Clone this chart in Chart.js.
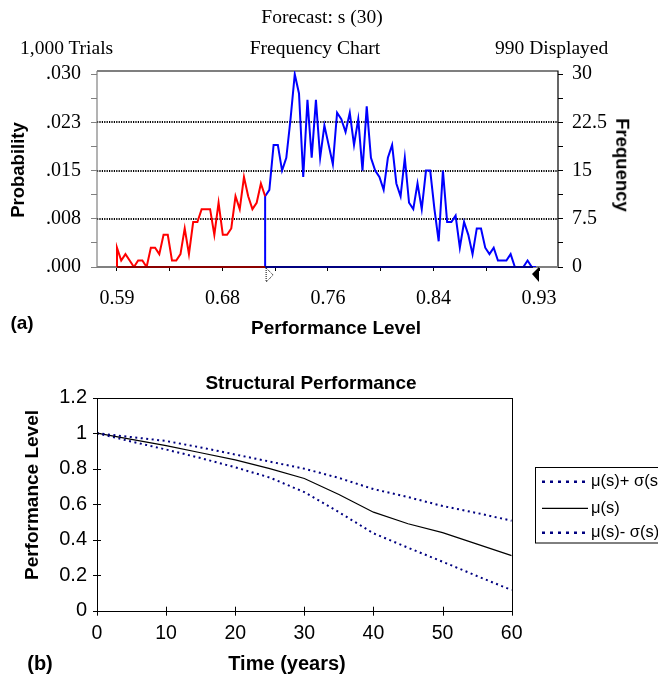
<!DOCTYPE html>
<html><head><meta charset="utf-8">
<script src="https://cdn.jsdelivr.net/npm/chart.js@4.4.1/dist/chart.umd.min.js"></script>
<style>
html,body{margin:0;padding:0;background:#fff;}
body{width:658px;height:678px;position:relative;overflow:hidden;}
canvas{position:absolute;left:0;display:block;}
#ca{top:0;}
#cb{top:345px;}
.t{position:absolute;white-space:nowrap;color:#000;line-height:1;}
.c{transform:translate(-50%,-50%);}
.serif{font-family:"Liberation Serif","Times New Roman",serif;font-size:19.5px;}
.bold{font-family:"Liberation Sans",Arial,sans-serif;font-weight:bold;font-size:19px;}
</style></head><body>
<canvas id="ca" width="658" height="345"></canvas>
<canvas id="cb" width="658" height="333"></canvas>

<div class="t serif c" style="left:322px;top:17px">Forecast: s (30)</div>
<div class="t serif" style="left:20px;top:38px">1,000 Trials</div>
<div class="t serif c" style="left:315px;top:48px">Frequency Chart</div>
<div class="t serif" style="left:495px;top:38px">990 Displayed</div>
<div class="t bold" style="left:17.5px;top:170px;transform:translate(-50%,-50%) rotate(-90deg);font-size:18.5px">Probability</div>
<div class="t bold" style="left:621.5px;top:165px;transform:translate(-50%,-50%) rotate(90deg);font-size:18.5px">Frequency</div>
<div class="t bold c" style="left:22px;top:322px">(a)</div>
<div class="t bold c" style="left:336px;top:327px">Performance Level</div>

<div class="t bold c" style="left:311px;top:381.5px">Structural Performance</div>
<div class="t bold" style="left:30.5px;top:495px;transform:translate(-50%,-50%) rotate(-90deg)">Performance Level</div>
<div class="t bold c" style="left:40px;top:663px;font-size:20px">(b)</div>
<div class="t bold c" style="left:287px;top:663px;font-size:20px">Time (years)</div>

<script>
// ---------- Panel (a): frequency chart data ----------
const frequency = [
  3,1,2,1,0,1,1,0,3,3,
  2,5,5,1,1,2,6,2,7,7,
  9,9,9,5,10,5,5,6,11,9,
  14,11,9,10,13,11,
  12,19,19,15,17,23,
  30,27,14,26,17,26,17,22,19,16,
  24,23,21,24,19,23,15,25,17,15,
  14,12,17,19,13,11,17,10,9,13,
  9,15,15,9,4,15,7,7,8,3,
  7,5,2,6,6,3,2,3,1,1,
  1,2,0,0,0,1,0,0
];
const binFirst = 0.59;
const binLast = 0.9276;
const certaintyBin = 35;           // last bin of the red (excluded) region
const upperMarker = 0.93;
const perfTickValues = [0.59, 0.675, 0.76, 0.845, 0.93];
const perfTickLabels = ["0.59", "0.68", "0.76", "0.84", "0.93"];
const freqTickValues = [0, 7.5, 15, 22.5, 30];
const freqTickLabels = ["0", "7.5", "15", "22.5", "30"];
const probTickLabels = [".000", ".008", ".015", ".023", ".030"];
const freqGridValues = [7.5, 15, 22.5];

// ---------- Panel (b): structural performance data ----------
const years = [0, 5, 10, 15, 20, 25, 30, 35, 40, 45, 50, 55, 60];
const perfUpper = [1.0, 0.978, 0.956, 0.92, 0.88, 0.84, 0.80, 0.748, 0.685, 0.64, 0.59, 0.55, 0.507];
const perfMean  = [1.0, 0.965, 0.93, 0.89, 0.85, 0.80, 0.745, 0.655, 0.555, 0.49, 0.44, 0.375, 0.31];
const perfLower = [1.0, 0.953, 0.908, 0.86, 0.808, 0.75, 0.668, 0.555, 0.436, 0.355, 0.276, 0.195, 0.116];
const timeTicks = [0, 10, 20, 30, 40, 50, 60];
const perfTicks = [0, 0.2, 0.4, 0.6, 0.8, 1, 1.2];
const perfTickText = ["0", "0.2", "0.4", "0.6", "0.8", "1", "1.2"];
const legendLabels = ["\u03bc(s)+ \u03c3(s)", "\u03bc(s)", "\u03bc(s)- \u03c3(s)"];

// ---------- build panel (a) ----------
const binStep = (binLast - binFirst) / (frequency.length - 1);
const binX = frequency.map((_, i) => binFirst + i * binStep);
const redPts = [{x: binX[0], y: 0}].concat(
  binX.slice(0, certaintyBin + 1).map((x, i) => ({x, y: frequency[i]})));
const bluePts = [{x: binX[certaintyBin], y: 0}, {x: binX[certaintyBin], y: frequency[certaintyBin]}].concat(
  binX.slice(certaintyBin + 1).map((x, j) => ({x, y: frequency[certaintyBin + 1 + j]})));

const xTicksA = [];
perfTickValues.forEach((v, i) => {
  xTicksA.push(v);
  if (i < perfTickValues.length - 1) xTicksA.push((v + perfTickValues[i + 1]) / 2);
});
const yTicksA = [];
freqTickValues.forEach((v, i) => {
  yTicksA.push(v);
  if (i < freqTickValues.length - 1) yTicksA.push((v + freqTickValues[i + 1]) / 2);
});

const serifFont = {family: "'Liberation Serif','Times New Roman',serif", size: 20};
const sansFont = {family: "'Liberation Sans',Arial,sans-serif", size: 19.5};

const extrasA = {
  id: 'extrasA',
  beforeDatasetsDraw(chart) {
    const {ctx, chartArea: a, scales} = chart;
    ctx.save();
    ctx.strokeStyle = '#000';
    ctx.lineWidth = 2;
    ctx.setLineDash([1.2, 1.2]);
    freqGridValues.forEach(v => {
      const y = Math.round(scales.yR.getPixelForValue(v));
      ctx.beginPath(); ctx.moveTo(a.left, y); ctx.lineTo(a.right, y); ctx.stroke();
    });
    ctx.setLineDash([]);
    ctx.lineWidth = 1.2;
    ctx.strokeStyle = '#000';
    ctx.beginPath(); ctx.moveTo(a.left, a.top); ctx.lineTo(a.right, a.top); ctx.lineTo(a.right, a.bottom); ctx.stroke();
    ctx.strokeStyle = '#808080';
    ctx.beginPath(); ctx.moveTo(a.left, a.top); ctx.lineTo(a.left, a.bottom); ctx.stroke();
    ctx.lineWidth = 2;
    ctx.beginPath(); ctx.moveTo(a.left, a.bottom); ctx.lineTo(a.right, a.bottom); ctx.stroke();
    ctx.restore();
  },
  afterDatasetsDraw(chart) {
    const {ctx, chartArea: a, scales} = chart;
    const x0 = scales.x.getPixelForValue(binX[0]);
    const xb = scales.x.getPixelForValue(binX[certaintyBin]);
    const xu = scales.x.getPixelForValue(upperMarker);
    const y0 = scales.yR.getPixelForValue(0);
    ctx.save();
    ctx.lineWidth = 2.2;
    ctx.strokeStyle = '#8b0000';
    ctx.beginPath(); ctx.moveTo(x0, y0); ctx.lineTo(xb, y0); ctx.stroke();
    ctx.strokeStyle = '#000080';
    ctx.beginPath(); ctx.moveTo(xb, y0); ctx.lineTo(xu - 6, y0); ctx.stroke();
    // lower certainty grabber (dotted outline triangle)
    ctx.fillStyle = '#fff';
    ctx.strokeStyle = '#000';
    ctx.lineWidth = 1;
    ctx.setLineDash([1, 1]);
    ctx.beginPath(); ctx.moveTo(xb + 1, y0 + 1); ctx.lineTo(xb + 1, y0 + 15); ctx.lineTo(xb + 8, y0 + 8); ctx.closePath();
    ctx.fill(); ctx.stroke();
    ctx.setLineDash([]);
    // upper certainty grabber (filled triangle)
    ctx.fillStyle = '#000';
    ctx.beginPath(); ctx.moveTo(xu, y0); ctx.lineTo(xu, y0 + 15); ctx.lineTo(xu - 7, y0 + 7); ctx.closePath();
    ctx.fill();
    ctx.restore();
  }
};

new Chart(document.getElementById('ca'), {
  type: 'line',
  data: {
    datasets: [
      {data: redPts, borderColor: '#ff0000', borderWidth: 2, pointRadius: 0, tension: 0, yAxisID: 'yR'},
      {data: bluePts, borderColor: '#0000ff', borderWidth: 2, pointRadius: 0, tension: 0, yAxisID: 'yR'}
    ]
  },
  options: {
    responsive: false, animation: false,
    layout: {padding: {top: 71, left: 0, right: 0, bottom: 0}},
    plugins: {legend: {display: false}, tooltip: {enabled: false}, title: {display: false}},
    scales: {
      x: {
        type: 'linear', min: 0.5739, max: 0.9453,
        afterBuildTicks: s => { s.ticks = xTicksA.map(v => ({value: v})); },
        afterFit: s => { s.height = 78; },
        ticks: {autoSkip: false, maxRotation: 0, padding: 16, color: '#000', font: serifFont,
          callback: (v, i) => (i % 2 === 0 ? perfTickLabels[i / 2] : '')},
        grid: {display: true, drawOnChartArea: false, tickLength: 4, tickColor: '#000', tickWidth: 1},
        border: {display: false}
      },
      yL: {
        type: 'linear', position: 'left', min: 0, max: 30.5,
        afterBuildTicks: s => { s.ticks = yTicksA.map(v => ({value: v})); },
        afterFit: s => { s.width = 97; },
        ticks: {autoSkip: false, padding: 10, color: '#000', font: serifFont,
          callback: (v, i) => (i % 2 === 0 ? probTickLabels[i / 2] : '')},
        grid: {display: true, drawOnChartArea: false, tickLength: 6, tickColor: '#808080', tickWidth: 1},
        border: {display: false}
      },
      yR: {
        type: 'linear', position: 'right', min: 0, max: 30.5,
        afterBuildTicks: s => { s.ticks = yTicksA.map(v => ({value: v})); },
        afterFit: s => { s.width = 100; },
        ticks: {autoSkip: false, padding: 9, color: '#000', font: serifFont,
          callback: (v, i) => (i % 2 === 0 ? freqTickLabels[i / 2] : '')},
        grid: {display: true, drawOnChartArea: false, tickLength: 5, tickColor: '#000', tickWidth: 1},
        border: {display: false}
      }
    }
  },
  plugins: [extrasA]
});

// ---------- build panel (b) ----------
const toPts = arr => years.map((t, i) => ({x: t, y: arr[i]}));
const extrasB = {
  id: 'extrasB',
  afterDraw(chart) {
    const {ctx, chartArea: a, scales, data} = chart;
    ctx.save();
    ctx.strokeStyle = '#000';
    ctx.lineWidth = 1;
    ctx.strokeRect(Math.round(a.left) + 0.5, Math.round(a.top) + 0.5, Math.round(a.right - a.left), Math.round(a.bottom - a.top));
    ctx.beginPath();
    timeTicks.forEach(v => {
      const x = Math.round(scales.x.getPixelForValue(v)) + 0.5;
      ctx.moveTo(x, a.bottom - 4); ctx.lineTo(x, a.bottom + 5);
    });
    perfTicks.forEach(v => {
      const y = Math.round(scales.y.getPixelForValue(v)) + 0.5;
      ctx.moveTo(a.left - 4, y); ctx.lineTo(a.left + 4, y);
    });
    ctx.stroke();
    // legend
    const lx = 535.5, ly = 122.5, lw = 130, lh = 75.5;
    ctx.fillStyle = '#fff';
    ctx.fillRect(lx, ly, lw, lh);
    ctx.strokeRect(lx, ly, lw, lh);
    const rowY = [136.7, 163.3, 187.7];
    ctx.font = "16.5px 'Liberation Sans', Arial, sans-serif";
    ctx.textBaseline = 'middle';
    ctx.textAlign = 'left';
    data.datasets.forEach((ds, i) => {
      ctx.strokeStyle = ds.borderColor;
      ctx.lineWidth = ds.borderDash ? 2.5 : 1.2;
      ctx.setLineDash(ds.borderDash ? [3, 5] : []);
      ctx.beginPath(); ctx.moveTo(542, rowY[i]); ctx.lineTo(588, rowY[i]); ctx.stroke();
      ctx.setLineDash([]);
      ctx.fillStyle = '#000';
      ctx.fillText(legendLabels[i], 591, rowY[i]);
    });
    ctx.restore();
  }
};

new Chart(document.getElementById('cb'), {
  type: 'line',
  data: {
    datasets: [
      {data: toPts(perfUpper), borderColor: '#000080', borderWidth: 2, borderDash: [2, 3.5], pointRadius: 0, tension: 0},
      {data: toPts(perfMean), borderColor: '#000000', borderWidth: 1.2, pointRadius: 0, tension: 0},
      {data: toPts(perfLower), borderColor: '#000080', borderWidth: 2, borderDash: [2, 3.5], pointRadius: 0, tension: 0}
    ]
  },
  options: {
    responsive: false, animation: false,
    layout: {padding: {top: 52.7, left: 0, right: 146.3, bottom: 0}},
    plugins: {legend: {display: false}, tooltip: {enabled: false}, title: {display: false}},
    scales: {
      x: {
        type: 'linear', min: 0, max: 60,
        afterBuildTicks: s => { s.ticks = timeTicks.map(v => ({value: v})); },
        afterFit: s => { s.height = 67.3; },
        ticks: {autoSkip: false, maxRotation: 0, padding: 11, color: '#000', font: sansFont},
        grid: {display: false, drawTicks: false},
        border: {display: false}
      },
      y: {
        type: 'linear', min: 0, max: 1.2,
        afterBuildTicks: s => { s.ticks = perfTicks.map(v => ({value: v})); },
        afterFit: s => { s.width = 97; },
        ticks: {autoSkip: false, padding: 10, color: '#000', font: {family: "'Liberation Sans',Arial,sans-serif", size: 20},
          callback: (v, i) => perfTickText[i]},
        grid: {display: false, drawTicks: false},
        border: {display: false}
      }
    }
  },
  plugins: [extrasB]
});
</script>
</body></html>
